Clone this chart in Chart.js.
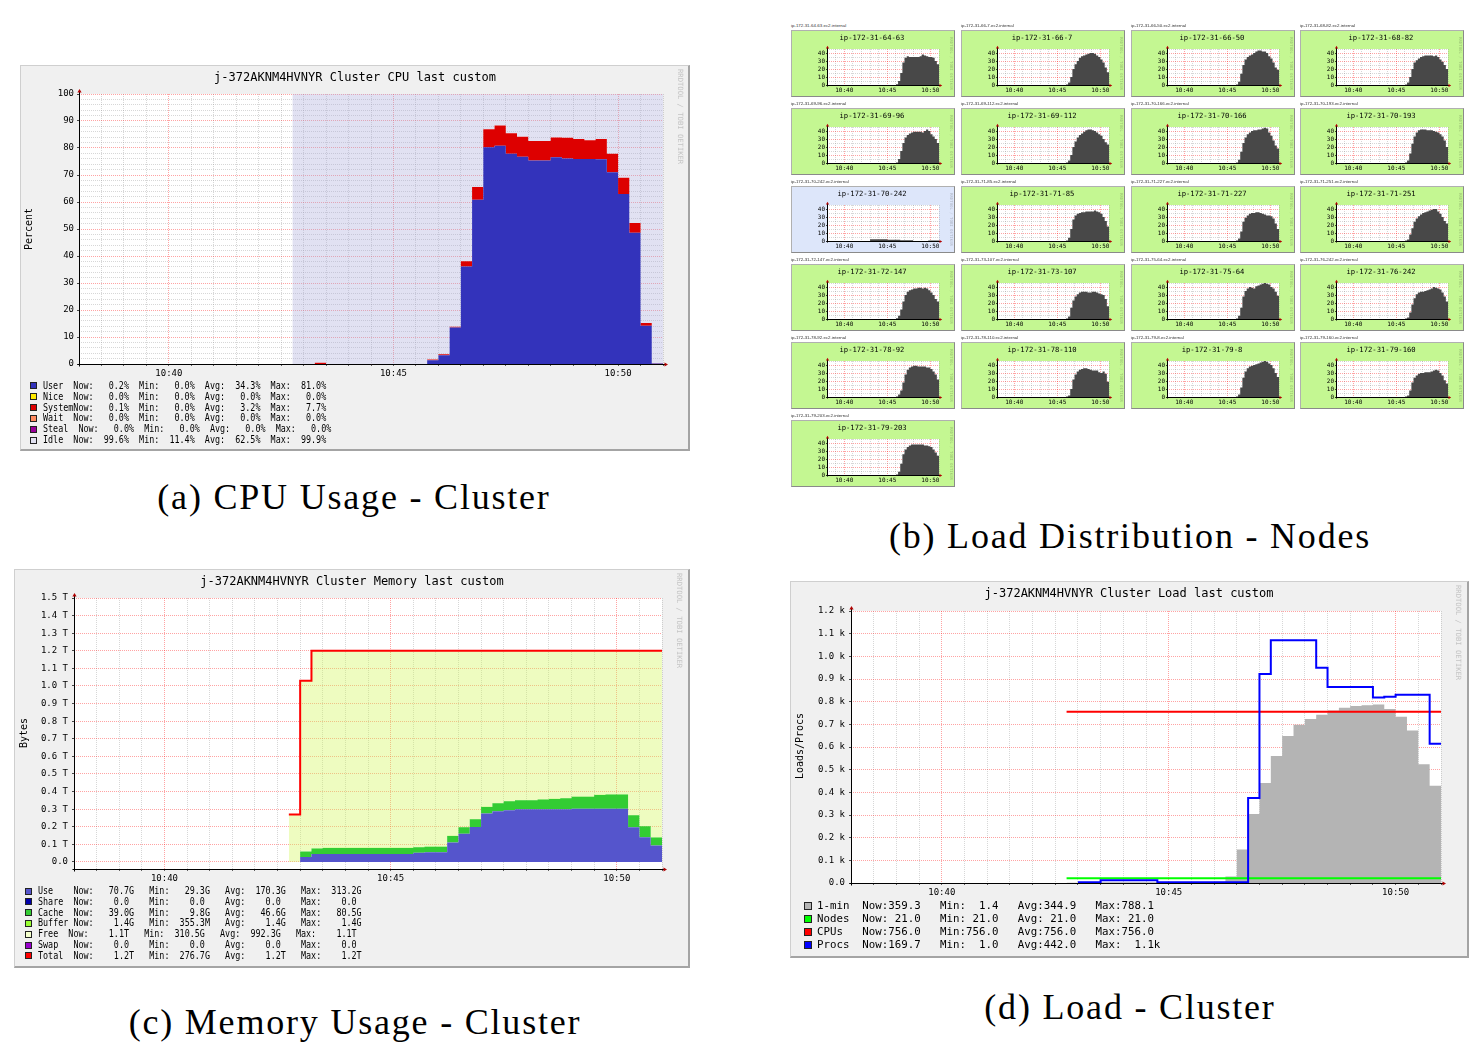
<!DOCTYPE html>
<html><head><meta charset="utf-8">
<script src="https://cdn.jsdelivr.net/npm/chart.js@4.4.1/dist/chart.umd.min.js"></script>
<style>
html,body{margin:0;padding:0;background:#fff;}
body{position:relative;width:1482px;height:1052px;overflow:hidden;}
.frame{position:absolute;box-sizing:border-box;background:#f0f0f0;border:1px solid #cfcfcf;border-right:2px solid #a4a4a4;border-bottom:2px solid #a4a4a4;}
.t{position:absolute;white-space:pre;font-family:'DejaVu Sans Mono',monospace;color:#000;line-height:1;}
.cap{position:absolute;white-space:pre;font-family:'Liberation Serif',serif;font-size:36px;letter-spacing:1.8px;color:#000;line-height:1;transform:translate(-50%,-50%);}
.node{position:absolute;box-sizing:border-box;border:1px solid #b0b0b0;border-right-color:#8a8a8a;border-bottom-color:#8a8a8a;}
.lbox{position:absolute;box-sizing:border-box;border:1px solid #222;}
canvas{position:absolute;}
</style></head><body>
<script>
// ---------------- DATA ----------------
const times = ['10:42:45','10:43:00','10:43:15','10:43:30','10:43:45','10:44:00','10:44:15','10:44:30','10:44:45','10:45:00','10:45:15','10:45:30','10:45:45','10:46:00','10:46:15','10:46:30','10:46:45','10:47:00','10:47:15','10:47:30','10:47:45','10:48:00','10:48:15','10:48:30','10:48:45','10:49:00','10:49:15','10:49:30','10:49:45','10:50:00','10:50:15','10:50:30','10:50:45','10:51:00'];
const nodeTimes = ['10:46:00','10:46:15','10:46:30','10:46:45','10:47:00','10:47:15','10:47:30','10:47:45','10:48:00','10:48:15','10:48:30','10:48:45','10:49:00','10:49:15','10:49:30','10:49:45','10:50:00','10:50:15','10:50:30','10:50:45','10:51:00'];
const xLabels = ['10:40','10:45','10:50'];

// CPU (percent)
const cpuUser   = [0,0,0,0,0,0,0,0,0,0,0,0,1.4,3.2,13.5,36.1,60.8,80.3,80.8,77.9,76.8,75.4,75.4,76.6,76.1,75.9,75.9,75.8,71.0,63.0,48.6,14.2,0.2];
const cpuSystem = [0,0,0.5,0,0,0,0,0,0,0,0,0,0.3,0.4,0.3,2.0,4.8,6.6,7.5,7.6,7.4,7.2,7.2,7.3,7.7,7.4,7.0,7.5,6.9,6.0,3.6,1.0,0.1];
const cpuTicks = [0,10,20,30,40,50,60,70,80,90,100];
const cpuLabels = ['User','Nice','System','Wait','Steal','Idle'];
const cpuColors = ['#3333bb','#ffea00','#dd0000','#ff8a60','#990099','#e2e2f2'];
const cpuNow = ['0.2%','0.0%','0.1%','0.0%','0.0%','99.6%'];
const cpuMin = ['0.0%','0.0%','0.0%','0.0%','0.0%','11.4%'];
const cpuAvg = ['34.3%','0.0%','3.2%','0.0%','0.0%','62.5%'];
const cpuMax = ['81.0%','0.0%','7.7%','0.0%','0.0%','99.9%'];

// Memory (TB)
const memUse    = [0,0.028,0.045,0.045,0.045,0.045,0.045,0.045,0.045,0.045,0.045,0.053,0.055,0.055,0.110,0.161,0.199,0.275,0.288,0.294,0.300,0.300,0.300,0.300,0.300,0.303,0.303,0.303,0.303,0.303,0.197,0.140,0.093];
const memCache  = [0,0.031,0.031,0.035,0.035,0.035,0.035,0.035,0.035,0.035,0.035,0.030,0.032,0.032,0.038,0.036,0.044,0.038,0.046,0.051,0.051,0.051,0.055,0.058,0.062,0.067,0.067,0.078,0.080,0.080,0.069,0.063,0.046];
const memBuffer = [0,0.0004,0.0014,0.0014,0.0014,0.0014,0.0014,0.0014,0.0014,0.0014,0.0014,0.0014,0.0014,0.0014,0.0014,0.0014,0.0014,0.0014,0.0014,0.0014,0.0014,0.0014,0.0014,0.0014,0.0014,0.0014,0.0014,0.0014,0.0014,0.0014,0.0014,0.0014,0.0014];
const memTotal  = [0.27,1.03,1.2,1.2,1.2,1.2,1.2,1.2,1.2,1.2,1.2,1.2,1.2,1.2,1.2,1.2,1.2,1.2,1.2,1.2,1.2,1.2,1.2,1.2,1.2,1.2,1.2,1.2,1.2,1.2,1.2,1.2,1.2];
const memTicks = [0,0.1,0.2,0.3,0.4,0.5,0.6,0.7,0.8,0.9,1.0,1.1,1.2,1.3,1.4,1.5];
const memLabels = ['Use','Share','Cache','Buffer','Free','Swap','Total'];
const memColors = ['#5555cc','#0000aa','#33cc33','#99ff33','#f4ffcc','#9900cc','#ff0000'];
const memNow = ['70.7G','0.0','39.0G','1.4G','1.1T','0.0','1.2T'];
const memMin = ['29.3G','0.0','9.8G','355.3M','310.5G','0.0','276.7G'];
const memAvg = ['170.3G','0.0','46.6G','1.4G','992.3G','0.0','1.2T'];
const memMax = ['313.2G','0.0','80.5G','1.4G','1.1T','0.0','1.2T'];

// Load
const load1     = [1.4,1.4,2,3,3,3,3,3,3,3,3,3,3,5,29,148,304,441,560,648,698,724,742,761,773,781,784,788,768,733,673,524,429];
const loadNodes = [21,21,21,21,21,21,21,21,21,21,21,21,21,21,21,21,21,21,21,21,21,21,21,21,21,21,21,21,21,21,21,21,21];
const loadCpus  = [756,756,756,756,756,756,756,756,756,756,756,756,756,756,756,756,756,756,756,756,756,756,756,756,756,756,756,756,756,756,756,756,756];
const loadProcs = [null,3,3,12,12,12,12,12,3,3,3,3,3,3,3,3,375,922,1071,1071,1071,1071,950,865,865,865,865,818,822,830,830,830,614];
const loadTicks = [0,100,200,300,400,500,600,700,800,900,1000,1100,1200];
const loadLabels = ['1-min','Nodes','CPUs','Procs'];
const loadColors = ['#b4b4b4','#00ff00','#ff0000','#0000ff'];
const loadNow = ['359.3','21.0','756.0','169.7'];
const loadMin = ['1.4','21.0','756.0','1.0'];
const loadAvg = ['344.9','21.0','756.0','442.0'];
const loadMax = ['788.1','21.0','756.0','1.1k'];

// Nodes (1-min load per host)
const nodeHosts = ['ip-172-31-64-63','ip-172-31-66-7','ip-172-31-66-50','ip-172-31-68-82','ip-172-31-69-96','ip-172-31-69-112','ip-172-31-70-166','ip-172-31-70-193','ip-172-31-70-242','ip-172-31-71-85','ip-172-31-71-227','ip-172-31-71-251','ip-172-31-72-147','ip-172-31-73-107','ip-172-31-75-64','ip-172-31-76-242','ip-172-31-78-92','ip-172-31-78-110','ip-172-31-79-8','ip-172-31-79-160','ip-172-31-79-203'];
const idleHosts = ['ip-172-31-70-242'];
const nodeTicks = [0,10,20,30,40];
const nodeLoad = [
 [1,5,15,28,34,36,35,35,35,35,35,36,38,37,36,35,35,34,30,26],
 [0.5,3,10,20,26,30,34,36,37,38,39,40,40,39,37,35,32,28,22,16],
 [0.5,4,14,25,32,35,37,38,40,42,43,43,42,42,40,36,33,28,22,19],
 [0.5,3,10,20,28,31,33,35,36,37,37,37,37,36,37,35,32,29,25,20],
 [0.5,5,15,25,32,35,37,38,39,39,39,39,38,40,42,40,36,33,30,25],
 [0.5,3,10,20,27,32,35,37,39,41,42,42,41,40,38,36,34,30,26,23],
 [0.5,4,14,25,32,36,38,40,41,41,42,42,43,44,43,38,34,28,22,18],
 [0.5,3,12,24,33,38,41,42,42,42,41,41,41,40,39,38,36,33,28,20],
 [0,2.2,2.2,2.2,2.2,2.2,2.2,2.2,2.2,1.5,1.5,1.5,1.5,1.5,1.5,0.8,0.8,0.8,0.8,0.8,0.8,0,0,0,0,0,0,0,0.7,0.7,0.7,0.7,0.7],
 [0.5,4,15,27,32,34,35,36,36,37,37,37,37,38,37,36,34,30,25,18],
 [0.5,3,12,24,29,32,34,35,35,36,36,35,34,33,32,32,31,28,22,15],
 [0.5,2,8,16,24,28,31,33,35,36,37,38,39,40,40,37,34,30,25,22],
 [1,4,12,22,30,34,36,37,38,38,39,39,38,39,38,36,33,30,25,22],
 [0.5,3,14,23,28,31,33,34,34,34,33,33,34,34,33,32,31,30,25,16],
 [0.5,4,14,28,35,38,40,39,38,41,42,43,44,45,44,43,40,38,34,29],
 [0.5,2,8,18,26,31,33,34,34,35,36,37,38,40,39,38,37,33,28,22],
 [0.5,3,8,18,28,34,37,38,39,39,38,38,38,38,37,37,35,32,28,22],
 [0.5,2,10,22,28,32,34,35,36,36,35,34,33,33,33,31,30,32,29,19],
 [0.5,3,12,24,32,36,38,39,40,41,42,43,44,45,44,42,40,36,30,25],
 [0.5,2,8,18,24,27,29,30,30,31,31,31,32,33,34,33,30,27,21,17],
 [0.5,4,14,26,32,35,37,38,38,38,38,38,38,37,37,36,35,32,28,24]
];

// ---------------- HELPERS ----------------
const MONO = "'DejaVu Sans Mono', monospace";
const MAJ = 'rgba(255,0,0,0.36)', MIN = 'rgba(130,130,130,0.32)';
const T0 = 10 * 60 + 38;
const tm = s => { const p = s.split(':').map(Number); return p[0] * 60 + p[1] + (p[2] || 0) / 60 - T0; };
const steps = (vals, tl) => { const pts = vals.map((v, i) => ({x: tm(tl[i]), y: v})); pts.push({x: tm(tl[vals.length]), y: vals[vals.length - 1]}); return pts; };
const near = (a, b) => Math.abs(a - b) < 1e-6;

function addDiv(cls, css, text) {
  const d = document.createElement('div');
  if (cls) d.className = cls;
  d.style.cssText = css;
  if (text != null) d.textContent = text;
  document.body.appendChild(d);
  return d;
}

const decor = {
  id: 'decor',
  beforeDraw(chart) {
    const {ctx, chartArea: a} = chart;
    ctx.save(); ctx.fillStyle = '#ffffff';
    ctx.fillRect(a.left, a.top, a.right - a.left, a.bottom - a.top);
    ctx.restore();
  },
  afterDraw(chart, _a, o) {
    const {ctx, chartArea: a} = chart;
    const L = Math.round(a.left) + 0.5, B = Math.round(a.bottom) + 0.5;
    const e = o.ext, s = o.size;
    ctx.save(); ctx.setLineDash([]);
    ctx.strokeStyle = '#000'; ctx.lineWidth = 1;
    ctx.beginPath();
    ctx.moveTo(L, B + o.under); ctx.lineTo(L, a.top - e);
    ctx.moveTo(L - o.under, B); ctx.lineTo(a.right + e, B);
    ctx.stroke();
    ctx.fillStyle = '#b00000';
    ctx.beginPath(); ctx.moveTo(L, a.top - e - s); ctx.lineTo(L - s * 0.7, a.top - e + 0.5); ctx.lineTo(L + s * 0.7, a.top - e + 0.5); ctx.closePath(); ctx.fill();
    ctx.beginPath(); ctx.moveTo(a.right + e + s, B); ctx.lineTo(a.right + e - 0.5, B - s * 0.7); ctx.lineTo(a.right + e - 0.5, B + s * 0.7); ctx.closePath(); ctx.fill();
    ctx.restore();
  }
};

function timeAxis(minor, fs, tl, pad, h) {
  const pos = []; for (let i = 0; i * minor <= 13.0001; i++) pos.push(Math.round(i * minor * 1000) / 1000);
  const majors = xLabels.map(tm);
  return {
    type: 'linear', min: 0, max: 13,
    afterBuildTicks: s => { s.ticks = pos.map(v => ({value: v})); },
    afterFit: s => { s.height = h; },
    ticks: { autoSkip: false, maxRotation: 0, minRotation: 0, padding: pad, color: '#000', font: {family: MONO, size: fs},
      callback: v => { const i = majors.findIndex(m => near(m, v)); return i >= 0 ? xLabels[i] : ''; } },
    grid: { color: c => (c.tick && majors.some(m => near(m, c.tick.value))) ? MAJ : MIN, lineWidth: 1, drawTicks: true, tickLength: tl, tickColor: 'rgba(0,0,0,0.6)', tickWidth: 1 },
    border: { display: false, dash: [1, 1] }
  };
}

function valAxis(o) {
  return {
    type: 'linear', min: o.min, max: o.max, stacked: !!o.stacked,
    afterBuildTicks: s => { s.ticks = o.pos.map(v => ({value: v})); },
    afterFit: s => { s.width = o.w; },
    ticks: { autoSkip: false, padding: o.pad, color: '#000', font: {family: MONO, size: o.fs},
      callback: v => { const i = o.labeled.findIndex(m => near(m, v)); return i >= 0 ? o.fmt(o.labeled[i]) : ''; } },
    grid: { color: c => (c.tick && o.labeled.some(m => near(m, c.tick.value))) ? MAJ : MIN, lineWidth: 1, drawTicks: true, tickLength: o.tl,
      tickColor: c => (c.tick && o.labeled.some(m => near(m, c.tick.value))) ? 'rgba(0,0,0,0.7)' : 'rgba(0,0,0,0)' },
    border: { display: false, dash: [1, 1] }
  };
}

function makeChart(box, ca, datasets, xAx, yAx, dec) {
  const [L, T, W, H] = box;
  const cv = document.createElement('canvas');
  cv.width = W; cv.height = H;
  cv.style.left = L + 'px'; cv.style.top = T + 'px';
  cv.style.width = W + 'px'; cv.style.height = H + 'px';
  document.body.appendChild(cv);
  return new Chart(cv.getContext('2d'), {
    type: 'line',
    data: { datasets },
    options: {
      responsive: false, animation: false, events: [], devicePixelRatio: 1,
      layout: { padding: { left: 0, right: W - ca.r, top: ca.t, bottom: 0 } },
      plugins: { legend: {display: false}, tooltip: {enabled: false}, title: {display: false}, decor: dec },
      elements: { point: { radius: 0, hitRadius: 0, hoverRadius: 0 }, line: { tension: 0 } },
      scales: { x: xAx, y: yAx }
    },
    plugins: [decor]
  });
}

function area(label, vals, color, fill, tl, stack) {
  return { label, data: steps(vals, tl || times), stepped: true, fill, backgroundColor: color, borderColor: 'rgba(0,0,0,0)', borderWidth: 0, stack: stack || 'a' };
}
function line(label, vals, color, width, stack) {
  return { label, data: steps(vals, times), stepped: true, fill: false, borderColor: color, borderWidth: width, stack: stack || 'l' };
}

function title(text, cx, cy, fs) {
  addDiv('t', `left:${cx}px;top:${cy}px;font-size:${fs}px;transform:translate(-50%,-50%);`, text);
}
function ytitle(text, cx, cy) {
  addDiv('t', `left:${cx}px;top:${cy}px;font-size:10px;writing-mode:vertical-rl;transform:translate(-50%,-50%) rotate(180deg);`, text);
}
function mark(x, y, fs, color) {
  addDiv('t', `left:${x}px;top:${y}px;font-size:${fs}px;writing-mode:vertical-rl;color:${color};`, 'RRDTOOL / TOBI OETIKER');
}
function legend(lines, colors, bx, bs, tx, y0, step, k) {
  lines.forEach((s, i) => {
    const y = y0 + i * step;
    addDiv('lbox', `left:${bx}px;top:${Math.round(y - bs / 2)}px;width:${bs}px;height:${bs}px;background:${colors[i]};`);
    addDiv('t', `left:${tx}px;top:${y}px;font-size:10px;transform:translateY(-50%) scaleX(${k});transform-origin:0 50%;`, s);
  });
}
function caption(text, cx, cy) { addDiv('cap', `left:${cx}px;top:${cy}px;`, text); }

// ---------------- (a) CPU ----------------
addDiv('frame', 'left:20px;top:65px;width:670px;height:386px;');
const cpuIdle = cpuUser.map((u, i) => +(100 - u - cpuSystem[i]).toFixed(2));
const cpuGrid = []; for (let v = 0; v <= 100; v += 2) cpuGrid.push(v);
makeChart([20, 65, 670, 386], {r: 643, t: 29},
  [ area('User', cpuUser, '#3333bb', 'origin'),
    area('System', cpuSystem, '#dd0000', '-1'),
    area('Idle', cpuIdle, 'rgba(172,172,218,0.36)', '-1') ],
  timeAxis(0.5, 9, 2, 2, 87),
  valAxis({min: 0, max: 100, stacked: true, pos: cpuGrid, labeled: cpuTicks, fmt: v => String(v), w: 59, fs: 9, tl: 2, pad: 3}),
  {ext: 2, size: 3, under: 2});
title('j-372AKNM4HVNYR Cluster CPU last custom', 355, 77, 12);
ytitle('Percent', 29, 229);
mark(677, 69, 7.2, '#c4c4c4');
legend(cpuLabels.map((n, i) => n.padEnd(n === 'Steal' ? 7 : 6) + 'Now:' + cpuNow[i].padStart(7) + '  Min:' + cpuMin[i].padStart(7) + '  Avg:' + cpuAvg[i].padStart(7) + '  Max:' + cpuMax[i].padStart(7)),
  cpuColors, 30, 7, 43, 385.7, 10.92, 0.84);
caption('(a) CPU Usage - Cluster', 354, 497);

// ---------------- (c) Memory ----------------
addDiv('frame', 'left:14px;top:569px;width:676px;height:399px;');
const memFree = memTotal.map((t, i) => +(t - memUse[i] - memCache[i] - memBuffer[i]).toFixed(4));
makeChart([14, 569, 676, 399], {r: 648, t: 29},
  [ line('Total', memTotal, '#ff0000', 2, 'tot'),
    area('Use', memUse, '#5555cc', 'origin', null, 'mem'),
    area('Cache', memCache, '#33cc33', '-1', null, 'mem'),
    area('Buffer', memBuffer, '#99ff33', '-1', null, 'mem'),
    area('Free', memFree, 'rgba(210,247,89,0.38)', '-1', null, 'mem') ],
  timeAxis(0.5, 9, 2, 2, 99),
  valAxis({min: -0.04, max: 1.5, stacked: true, pos: memTicks, labeled: memTicks, fmt: v => v === 0 ? '0.0' : v.toFixed(1) + ' T', w: 60, fs: 9, tl: 2, pad: 4}),
  {ext: 2, size: 3, under: 2});
title('j-372AKNM4HVNYR Cluster Memory last custom', 352, 581, 12);
ytitle('Bytes', 23.5, 733);
mark(676, 573, 7.2, '#c4c4c4');
const mv = s => (/[A-Za-z]$/.test(s) ? s : s + ' ').padStart(8);
legend(memLabels.map((n, i) => n.padEnd(n === 'Free' ? 6 : 7) + 'Now:' + mv(memNow[i]) + '   Min:' + mv(memMin[i]) + '   Avg:' + mv(memAvg[i]) + '   Max:' + mv(memMax[i])),
  memColors, 25, 7, 38, 891, 10.83, 0.84);
caption('(c) Memory Usage - Cluster', 355, 1022);

// ---------------- (d) Load ----------------
addDiv('frame', 'left:790px;top:581px;width:679px;height:377px;');
makeChart([790, 581, 679, 377], {r: 651, t: 30},
  [ line('Procs', loadProcs, '#0000ff', 2),
    line('CPUs', loadCpus, '#ff0000', 2),
    line('Nodes', loadNodes, '#00ff00', 2),
    area('1-min', load1, '#b4b4b4', 'origin', null, 'g') ],
  timeAxis(0.5, 9, 2, 2, 75),
  valAxis({min: 0, max: 1200, pos: loadTicks, labeled: loadTicks, fmt: v => v === 0 ? '0.0' : (v / 1000).toFixed(1) + ' k', w: 61, fs: 9, tl: 2, pad: 4}),
  {ext: 2, size: 3, under: 2});
title('j-372AKNM4HVNYR Cluster Load last custom', 1129, 593, 12);
ytitle('Loads/Procs', 799.5, 746);
mark(1455, 585, 7.2, '#c4c4c4');
const lv = s => /k$/.test(s) ? s.padStart(6) : s.padStart(5);
legend(loadLabels.map((n, i) => n.padEnd(7) + 'Now:' + lv(loadNow[i]) + '   Min:' + lv(loadMin[i]) + '   Avg:' + lv(loadAvg[i]) + '   Max:' + lv(loadMax[i])),
  loadColors, 804, 8, 817, 906, 12.9, 1.076);
caption('(d) Load - Cluster', 1130, 1007);

// ---------------- (b) Nodes ----------------
const nodeCols = [791, 961, 1131, 1300];
const nodeRows = [30, 108, 186, 264, 342, 420];
const nodeGrid = [0,5,10,15,20,25,30,35,40,45];
nodeHosts.forEach((h, k) => {
  const x0 = nodeCols[k % 4], y0 = nodeRows[Math.floor(k / 4)];
  const idle = idleHosts.includes(h);
  const vals = nodeLoad[k];
  const tl = vals.length === times.length - 1 ? times : nodeTimes;
  addDiv('t', `left:${x0}px;top:${y0 - 4}px;font-family:'Liberation Sans',sans-serif;font-size:4.4px;color:#333;transform:translateY(-50%);`, h + '.ec2.internal');
  addDiv('node', `left:${x0}px;top:${y0}px;width:164px;height:67px;background:${idle ? '#dde6fa' : '#c4f792'};`);
  makeChart([x0, y0, 164, 67], {r: 148, t: 19},
    [ area(h, vals, '#484848', 'origin', tl) ],
    timeAxis(1, 6, 1, 1, 12),
    valAxis({min: 0, max: 45, pos: nodeGrid, labeled: nodeTicks, fmt: v => String(v), w: 36, fs: 6, tl: 1, pad: 1}),
    {ext: 1, size: 2.2, under: 1});
  title(h, x0 + 81, y0 + 8.3, 7.2);
  mark(x0 + 158, y0 + 7, 4, 'rgba(0,0,0,0.22)');
});
caption('(b) Load Distribution - Nodes', 1130, 536);
</script>
</body></html>
